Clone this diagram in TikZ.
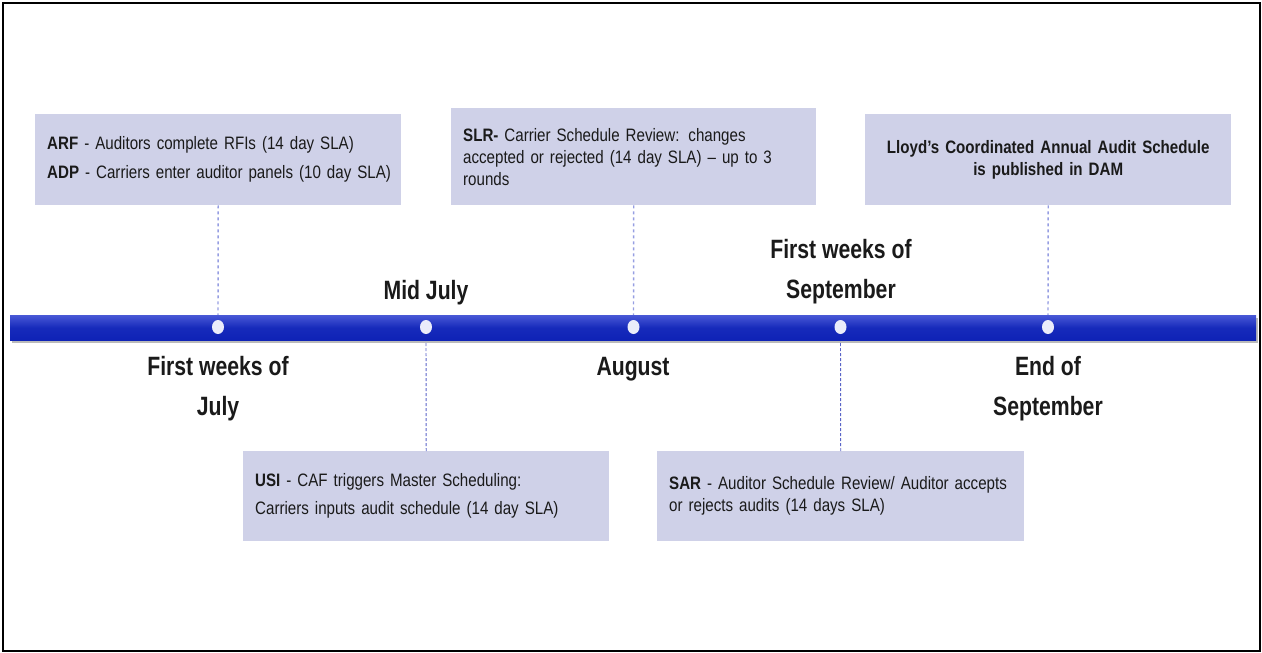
\documentclass[tikz,border=0pt]{standalone}
\usepackage{fontspec}
\setmainfont{Liberation Sans}
\newfontfamily\nf[FakeStretch=0.84,Ligatures=TeX]{Liberation Sans}
\newfontfamily\lf[FakeStretch=0.80,Ligatures=TeX]{Liberation Sans}
\usetikzlibrary{shadows,shapes.geometric}
\definecolor{boxfill}{RGB}{207,209,232}
\definecolor{bartop}{RGB}{72,88,214}
\definecolor{barbot}{RGB}{14,34,182}
\definecolor{dotfill}{RGB}{234,236,250}
\definecolor{upline}{RGB}{150,158,226}
\definecolor{downline}{RGB}{90,100,200}
\definecolor{txt}{RGB}{26,26,26}
\tikzset{
  box/.style={fill=boxfill, draw=none, inner xsep=12pt, inner ysep=0pt, align=left, text=txt,
    font=\nf\fontsize{18}{22}\selectfont},
  lbl/.style={align=center, text=txt, font=\lf\bfseries\fontsize{26.5}{40}\selectfont, inner sep=0pt},
  tdot/.style={ellipse, fill=dotfill, minimum width=12pt, minimum height=14pt, inner sep=0pt},
  upconn/.style={draw=upline, line width=1.4pt, dash pattern=on 3pt off 3pt},
  downconn/.style={draw=downline, line width=0.9pt, dash pattern=on 3pt off 2pt},
}
\begin{document}
\begin{tikzpicture}[x=1pt,y=-1pt]
\useasboundingbox (0,0) rectangle (1262,653);
\draw[line width=2pt, black] (3,3) rectangle (1260,651);
% boxes
\node[box, anchor=north west, text width=342pt, minimum height=91pt] (arf) at (35,114)
  {\mbox{{\bfseries ARF} - Auditors complete RFIs (14 day SLA)}\\[7pt]\mbox{{\bfseries ADP} - Carriers enter auditor panels (10 day SLA)}};
\node[box, anchor=north west, text width=341pt, minimum height=97pt] (slr) at (451,108)
  {{\bfseries SLR-} Carrier Schedule Review: changes\\accepted or rejected (14 day SLA) – up to 3\\rounds};
\node[box, anchor=north west, text width=342pt, minimum height=91pt, align=center] (lcs) at (865,114)
  {{\bfseries Lloyd’s Coordinated Annual Audit Schedule}\\{\bfseries is published in DAM}};
\node[box, anchor=north west, text width=342pt, minimum height=90pt] (usi) at (243,451)
  {\mbox{{\bfseries USI} - CAF triggers Master Scheduling:}\\[6pt]\mbox{Carriers inputs audit schedule (14 day SLA)}};
\node[box, anchor=north west, text width=343pt, minimum height=90pt] (sar) at (657,451)
  {{\bfseries SAR} - Auditor Schedule Review/ Auditor accepts\\or rejects audits (14 days SLA)};
% dots positions
\coordinate (p1) at (218,327);
\coordinate (p2) at (426,327);
\coordinate (p3) at (633.5,327);
\coordinate (p4) at (840.5,327);
\coordinate (p5) at (1048,327);
% connectors
\draw[upconn] (arf.south) -- (p1);
\draw[upconn] (slr.south) -- (p3);
\draw[upconn] (lcs.south) -- (p5);
\draw[downconn] (usi.north) -- (p2);
\draw[downconn] (sar.north) -- (p4);
% bar
\node[anchor=north west, minimum width=1246pt, minimum height=25pt, inner sep=0pt,
  top color=bartop, bottom color=barbot, middle color=barbot!85!bartop,
  drop shadow={shadow xshift=1.5pt, shadow yshift=-2.5pt, fill=black!45, opacity=0.6}] (bar) at (10,315) {};
\node[tdot] (d1) at (p1) {};
\node[tdot] (d2) at (p2) {};
\node[tdot] (d3) at (p3) {};
\node[tdot] (d4) at (p4) {};
\node[tdot] (d5) at (p5) {};
% labels
\node[lbl] (l1) at (218,389) {First weeks of\\July};
\node[lbl] (l2) at (426,293) {Mid July};
\node[lbl] (l3) at (633,369) {August};
\node[lbl] (l4) at (841,272) {First weeks of\\September};
\node[lbl] (l5) at (1048,389) {End of\\September};
\end{tikzpicture}
\end{document}
